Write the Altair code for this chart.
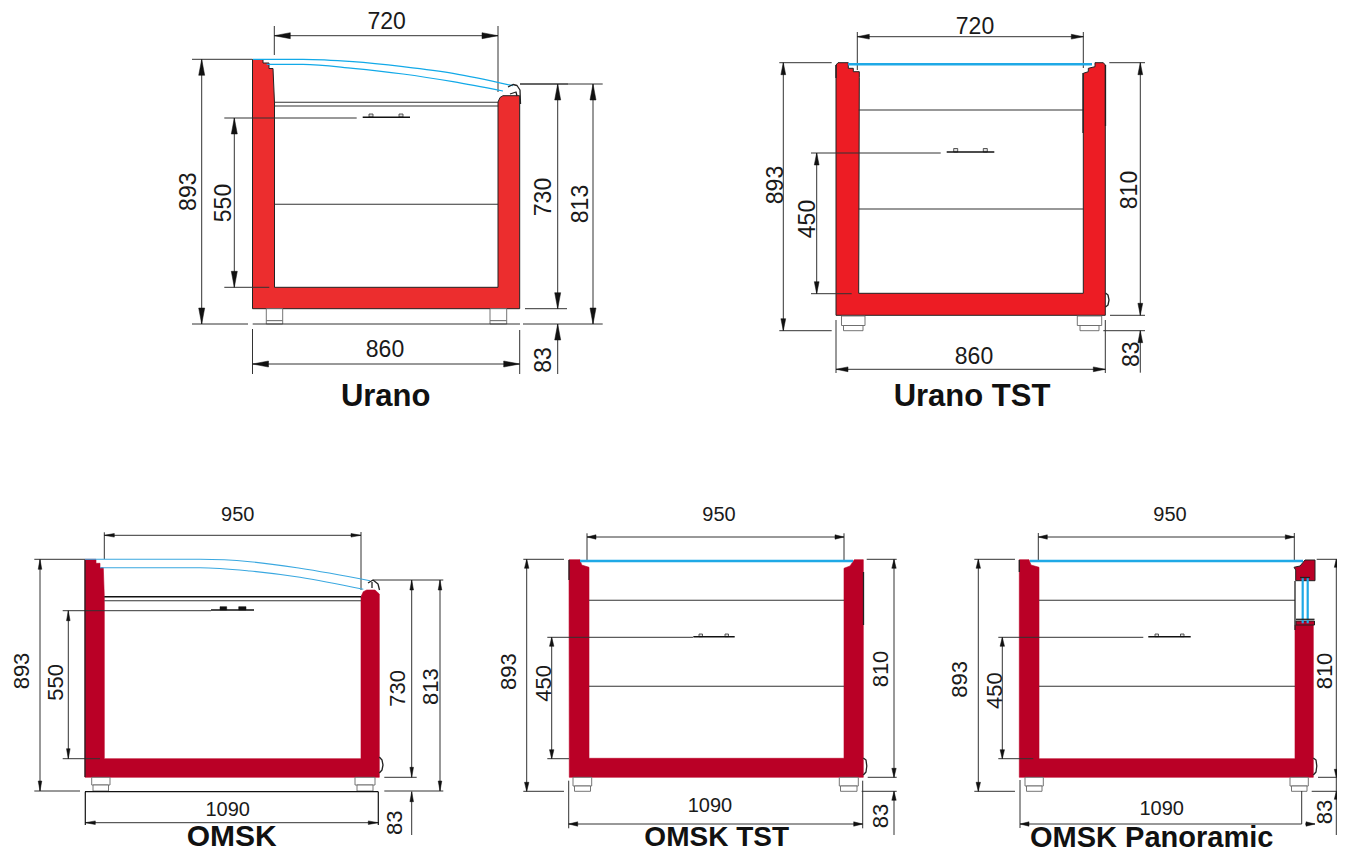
import altair as alt
import pandas as pd

# ---------- Urano ----------
U_BODY = [(252.5,59.5),(263,59.5),(263,63),(269,63),(269,68.5),(273,68.5),(274.5,103),(274.5,287.3),(498,287.3),(498,102),(500,97.5),(503,95.7),(519.7,95.7),(519.7,308.7),(252.5,308.7),(252.5,59.5)]
U_LID = [[(253,59.3),(303,59.3),(353,61.7),(403,66.7),(453,73.3),(513,85.7)],
         [(266.7,64.3),(303,64.3),(353,68.3),(403,74),(453,81.7),(503,91)]]
U_INK = [[(508,87),(513,84.5),(517,85.5),(520,90),(520.5,104)],[(510,94),(516,92),(517,96)]]
U_SHELF = [(102.3,274.5,498),(106,274.5,498),(204.3,274.5,498)]
U_HANDLE = [(117.3,362.7,410)]
U_LUGS = [(369,373,114,117),(399,403,114,117)]
U_FEET = [(266.3,282.7,308.7,320.7),(266.3,282.7,320.7,324),(490,506.7,308.7,320.7),(490,506.7,320.7,324)]
U_EXT_H = [(59.3,192,252.5),(324,192,248),(324,252.7,520),(324,523,602.7),(118,224.3,356.7),(287.3,224.3,269.3),(84,520,568),(84,520,602.7),(308.7,525,567)]
U_EXT_V = [(274.3,26,55),(498,26,92),(252.5,329,374),(519.7,330,374)]
U_DIM_V = [(201.7,59.3,324),(234.3,118,287.3),(557.7,84,308.7),(593,84,324)]
U_DIM_H = [(35.7,274.3,498),(364,252.5,519.7)]
U_DIM_X = [(557.7,324,374)]
U_TEXT = [("720",386.7,21,23,0),("860",385,349,23,0),("893",188,191.7,23,270),("550",223,203,23,270),("730",543,197,23,270),("813",580,204,23,270),("83",543,360,23,270)]

# ---------- Urano TST ----------
T_BODY = [(836,65),(838,62.7),(848.3,62.7),(848.3,68.3),(853.3,68.3),(853.3,71.7),(859.3,71.7),(859.3,77.3),(858.7,293.3),(1083.3,293.3),(1083.3,73.3),(1088.3,71.7),(1088.3,68.3),(1095,66.7),(1095,62.7),(1103.3,62.7),(1105.3,65),(1105.3,315.3),(836,315.3),(836,65)]
T_GLASS = [(64.3,848,1092)]
T_INK = [[(836,65),(836,78)],[(1105.5,65),(1105.5,126)],[(1083,73),(1083,133)],[(1105.5,293),(1108,295),(1109,300),(1108,305),(1105.5,307)]]
T_SHELF = [(110,858.7,1083.3),(209,858.7,1083.3)]
T_HANDLE = [(152,946.7,994.3)]
T_LUGS = [(953.7,957.7,148.5,152),(983.3,987.3,148.5,152)]
T_FEET = [(841.5,865,316,325.5),(843.5,863,325.5,330.7),(1077.3,1101.7,316,325.5),(1080,1099,325.5,330.7)]
T_EXT_H = [(62.7,779.3,831.7),(330.7,779.3,831.7),(153,811,940.7),(293.7,811,851.7),(62.7,1109.3,1145),(315.3,1110,1145),(330.7,1103.3,1145)]
T_EXT_V = [(857.3,32,70),(1083.3,32,68),(836,320,373),(1105.3,320,373)]
T_DIM_V = [(783.3,62.7,330.7),(816.7,153,293.7),(1140.3,62.7,315.3)]
T_DIM_H = [(36.7,857.3,1083.3),(369.3,836,1105.3)]
T_DIM_X = [(1140.3,330.7,372.7)]
T_TEXT = [("720",975,25.3,23,0),("860",974,356,23,0),("893",774.3,185,23,270),("450",806.7,219,23,270),("810",1128.3,190,23,270),("83",1130.7,354.3,23,270)]

# ---------- OMSK ----------
O_BODY = [(85,559.3),(96,559.3),(96,563.3),(100,563.3),(100,567.7),(103.3,567.7),(104.3,596.7),(104.3,758.7),(361,758.7),(361,596.7),(363.3,591.7),(366.7,590),(375,590),(379.3,594),(379.3,777.3),(85,777.3),(85,559.3)]
O_LID = [[(85,559.3),(150,559.3),(200,559.3),(250,561.7),(300,568.3),(370,580.7)],
         [(100,567.7),(150,567.7),(200,567.7),(250,571),(300,577.3),(363.3,589.3)]]
O_INK = [[(368,583),(373,580),(378,584),(379.5,590)],[(372,582),(372,588)],[(379.3,757),(382,760),(383,765),(382,770),(379.3,773)],[(85,560),(85,777)]]
O_SHELF = [(600.7,104.3,361)]
O_FRAME = [(596.7,104.3,361)]
O_HANDLE = [(610,211,254)]
O_BLOCKS = [(220,226.7,606.7,610),(238.7,246,606.7,610)]
O_FEET = [(91.7,110,777.3,785),(93,108.5,785,791),(355,375,777.3,785),(357,373,785,791)]
O_EXT_H = [(559.3,34.3,85),(791,34.3,80),(610.7,62.7,211),(758.7,62.7,100),(580,373.3,443.3),(777.3,384.3,416.7),(791,384.3,443.3)]
O_EXT_V = [(104.3,532.3,559),(361,532,590)]
O_BOX = [(791.7,85,378.3)]
O_BOX_V = [(85.3,791.7,825),(378.3,791.7,825)]
O_DIM_V = [(40,559.3,791),(68.3,610.7,758.7),(411.7,580,777.3),(440,580,791)]
O_DIM_H = [(535.3,104.3,361),(822.7,85.3,378.3)]
O_DIM_X = [(411.7,791.7,835)]
O_TEXT = [("950",237.7,513.3,20,0),("1090",227.7,808.3,20,0),("893",20.7,671,22,270),("550",55,682.3,22,270),("730",396.7,688.3,22,270),("813",430,686.7,22,270),("83",393.3,822.7,22,270)]

# ---------- OMSK TST ----------
S_BODY = [(569,559.7),(580,559.7),(581.7,565),(589,567.3),(589,758.3),(844,758.3),(844,568.3),(850,566),(854.3,559.7),(863.3,559.7),(863.3,777.3),(569.3,777.3),(569,559.7)]
S_GLASS = [(561,580,853)]
S_INK = [[(569,560),(569,580)],[(863.5,572),(863.5,625)],[(863.3,758),(866,760),(866.8,766),(866,772),(863.3,775)]]
S_SHELF = [(600.3,589,844),(686.3,589,844)]
S_HANDLE = [(636.7,693.3,734.7)]
S_LUGS = [(699,702.5,634,636.7),(725,728.5,634,636.7)]
S_FEET = [(573,591.7,777.3,786),(574.5,590.5,786,791.3),(839.3,858.3,777.3,786),(840.5,857,786,791.3)]
S_EXT_H = [(559.3,523.3,564),(791.3,523.3,564),(637.3,547.3,693),(758.7,547.3,569),(559.3,866.7,896.7),(777.3,867.7,896.7),(791.3,861.7,896.7)]
S_EXT_V = [(587,533.3,561),(844,533.3,561),(568.7,780.7,828.3),(862.7,780.7,828.3)]
S_DIM_V = [(526.7,559.3,791.3),(551.7,637.3,758.7),(894,559.3,777.3)]
S_DIM_H = [(537,587,844),(824,568.7,862.7)]
S_DIM_X = [(894,791.3,835)]
S_TEXT = [("950",719,513.3,20,0),("1090",710,804.3,20,0),("893",507.3,671.7,22,270),("450",542.7,683.3,22,270),("810",879.3,669,22,270),("83",879.3,816,22,270)]

# ---------- OMSK Panoramic ----------
P_BODY = [(1019.3,559.7),(1029,559.7),(1031,565),(1039,567.3),(1039,758.7),(1295,758.7),(1295,625),(1313.3,625),(1313.3,777.3),(1019.3,777.3),(1019.3,559.7)]
P_CAP = [(1294,567.3),(1300,566),(1305,560),(1315,560),(1315,580.7),(1295.7,580.7),(1295.7,570),(1294,567.3)]
P_SILL = [(1296,621),(1314.5,621),(1314.5,625),(1296,625),(1296,621)]
P_GLASS = [(561,1030,1303)]
P_PANES = [(1302.7,577.3,623.3),(1307.7,577.3,623.3)]
P_INK = [[(1295,581),(1295,630)],[(1296,619.3),(1314.5,619.3)],[(1019.3,560),(1019.3,572)],[(1313.3,758),(1316,760),(1316.8,766),(1316,772),(1313.3,775)],[(1300,577.5),(1310,577.5)]]
P_SHELF = [(600.3,1039,1295),(686.3,1039,1295)]
P_HANDLE = [(636.7,1148.3,1190.7)]
P_LUGS = [(1155,1158.5,634,636.7),(1180.5,1184,634,636.7)]
P_FEET = [(1025,1043.3,777.3,786),(1026.5,1042,786,791.3),(1290,1308.3,777.3,786),(1291.5,1307,786,791.3)]
P_EXT_H = [(559.3,974.3,1015),(791.3,974.3,1015),(637.3,998.3,1143.3),(758.7,998.3,1033.3),(559.3,1316.7,1337),(777.3,1318,1337),(791.3,1311.7,1337)]
P_EXT_V = [(1038.3,533,561),(1294.3,533,561),(1020,780,828),(1301.7,791,824),(1336.3,559.3,835)]
P_DIM_V = [(978.3,559.3,791.3),(1002.3,637.3,758.7)]
P_DIM_H = [(537,1038.3,1294.3)]
P_DIM_LINE = [(824,1020,1301.7),(824,1305,1315)]
P_TEXT = [("950",1170,513.3,20,0),("1090",1161.7,807.3,20,0),("893",958.3,679.3,22,270),("450",993.3,690.7,22,270),("810",1324,671,22,270),("83",1324,812,22,270)]

TITLES = [("Urano",385.7,397,31),("Urano TST",972,397,31),("OMSK",231.7,837,30),("OMSK TST",716.7,838,28),("OMSK Panoramic",1151.7,837.5,29)]

RED_URANO, RED_TST, RED_OMSK = "#ec2d2e", "#ed1c24", "#ba0026"
BLUE = "#1fa9e6"
INK = "#1a1a1a"
X = alt.Scale(domain=[8, 1337], nice=False, zero=False)
Y = alt.Scale(domain=[853, 8], nice=False, zero=False)
xe = lambda f="x": alt.X(f"{f}:Q", scale=X, axis=None)
ye = lambda f="y": alt.Y(f"{f}:Q", scale=Y, axis=None)


def hseg(rows):
    return [dict(x=a, x2=b, y=y, y2=y) for y, a, b in rows]


def vseg(rows):
    return [dict(x=x, x2=x, y=a, y2=b) for x, a, b in rows]


def rules(rows, color, width):
    return (alt.Chart(pd.DataFrame(rows)).mark_rule(color=color, strokeWidth=width)
            .encode(x=xe(), x2="x2:Q", y=ye(), y2="y2:Q"))


def polys(shapes, fill=None, color=INK, width=1.2, interpolate="linear"):
    rows = [dict(g=i, o=j, x=p[0], y=p[1]) for i, s in enumerate(shapes) for j, p in enumerate(s)]
    kw = dict(stroke=color, strokeWidth=width, interpolate=interpolate, strokeJoin="round")
    if fill:
        kw["fill"] = fill
    return (alt.Chart(pd.DataFrame(rows)).mark_line(**kw)
            .encode(x=xe(), y=ye(), order="o:Q", detail="g:N"))


def boxes(rows, fill, stroke, width):
    df = pd.DataFrame(rows, columns=["x", "x2", "y", "y2"])
    return (alt.Chart(df).mark_rect(fill=fill, stroke=stroke, strokeWidth=width)
            .encode(x=xe(), x2="x2:Q", y=ye(), y2="y2:Q"))


def arrow(x, y, dx, dy, ln, hw):
    tx, ty = x + dx * ln, y + dy * ln
    return [(x, y), (tx + dy * hw, ty + dx * hw), (tx - dy * hw, ty - dx * hw), (x, y)]


def arrows(dim_v, dim_h, extra, ln, hw):
    out = []
    for x, a, b in dim_v:
        out += [arrow(x, a, 0, 1, ln, hw), arrow(x, b, 0, -1, ln, hw)]
    for y, a, b in dim_h:
        out += [arrow(a, y, 1, 0, ln, hw), arrow(b, y, -1, 0, ln, hw)]
    for x, a, b in extra:
        out.append(arrow(x, a, 0, 1, ln, hw))
    return out


def texts(rows):
    # the values are glyph centres; "middle" sits a little off the digits' centre
    rows = [(t, x + (0.06 * s if a else 0), y + (0 if a else 0.06 * s), s, a) for t, x, y, s, a in rows]
    df = pd.DataFrame(rows, columns=["t", "x", "y", "s", "a"])
    return (alt.Chart(df).mark_text(font="Liberation Sans", color="#1a1a1a", align="center", baseline="middle")
            .encode(x=xe(), y=ye(), text="t:N", size=alt.Size("s:Q", scale=None, legend=None),
                    angle=alt.Angle("a:Q", scale=None)))


layers = []
for body, col in [(U_BODY, RED_URANO), (T_BODY, RED_TST), (O_BODY, RED_OMSK), (S_BODY, RED_OMSK), (P_BODY, RED_OMSK)]:
    layers.append(polys([body], fill=col, width=1.0 if col != RED_OMSK else 0.6,
                        color="#222" if col != RED_OMSK else col))
layers.append(polys([P_CAP, P_SILL], fill=RED_OMSK, color="#222", width=1))

layers.append(boxes(U_FEET + T_FEET + O_FEET + S_FEET + P_FEET, "white", "#666", 0.9))
layers.append(boxes(U_LUGS + T_LUGS + S_LUGS + P_LUGS, "#ddd", "#333", 0.8))
layers.append(boxes(O_BLOCKS, "#111", "#111", 0.5))

thin = []
for eh, ev, dv, dh, dx in [(U_EXT_H, U_EXT_V, U_DIM_V, U_DIM_H, U_DIM_X), (T_EXT_H, T_EXT_V, T_DIM_V, T_DIM_H, T_DIM_X),
                           (O_EXT_H, O_EXT_V, O_DIM_V, O_DIM_H, O_DIM_X), (S_EXT_H, S_EXT_V, S_DIM_V, S_DIM_H, S_DIM_X),
                           (P_EXT_H, P_EXT_V, P_DIM_V, P_DIM_H, [])]:
    thin += hseg(eh) + vseg(ev) + vseg(dv) + hseg(dh) + vseg(dx)
thin += hseg(P_DIM_LINE)
layers.append(rules(thin, "#333333", 1.0))
layers.append(rules(hseg(O_BOX) + vseg(O_BOX_V), "#111111", 1.2))
layers.append(rules(hseg(U_SHELF + T_SHELF + O_SHELF + S_SHELF + P_SHELF), "#333333", 1.1))
layers.append(rules(hseg(O_FRAME + U_HANDLE + T_HANDLE + O_HANDLE + S_HANDLE + P_HANDLE), "#111111", 1.6))

layers.append(rules(hseg(T_GLASS + S_GLASS + P_GLASS), BLUE, 2.4))
layers.append(rules(vseg(P_PANES), BLUE, 2.2))
layers.append(polys(U_LID, color="#12a9e8", width=1.2, interpolate="monotone"))
layers.append(polys(O_LID, color="#3aa8e0", width=1.1, interpolate="monotone"))
layers.append(polys(U_INK + T_INK + O_INK + S_INK + P_INK, color="#222", width=1.3))

heads = (arrows(U_DIM_V, U_DIM_H, U_DIM_X, 16, 3) + arrows(T_DIM_V, T_DIM_H, T_DIM_X, 12, 2.4)
         + arrows(O_DIM_V, O_DIM_H, O_DIM_X, 10, 1.8) + arrows(S_DIM_V, S_DIM_H, S_DIM_X, 9, 2.2)
         + arrows(P_DIM_V, P_DIM_H, [], 9, 2.2) + [arrow(1020, 824, 1, 0, 9, 2.2), arrow(1315, 824, -1, 0, 9, 2.2)]
         + arrows([(1336.3, 559.3, 777.3)], [], [(1336.3, 791.3, 835)], 8, 2))
layers.append(polys(heads, fill="#111", color="#111", width=0.5))

layers.append(texts(U_TEXT + T_TEXT + O_TEXT + S_TEXT + P_TEXT))
layers.append(alt.Chart(pd.DataFrame(TITLES, columns=["t", "x", "y", "s"]))
              .mark_text(font="Liberation Sans", fontWeight="bold", color="#111", align="center", baseline="middle")
              .encode(x=xe(), y=ye(), text="t:N", size=alt.Size("s:Q", scale=None, legend=None)))

chart = (alt.layer(*layers)
         .properties(width=1329, height=845, padding=0, autosize=alt.AutoSizeParams(type="none"), background="white")
         .configure_view(stroke=None))
chart.save("out.html", embed_options={"renderer": "svg", "actions": False})
